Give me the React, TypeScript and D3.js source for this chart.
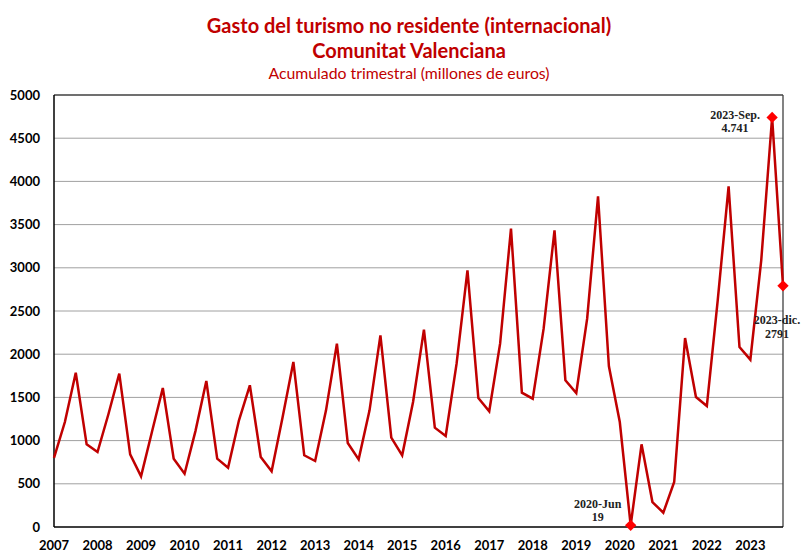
import React from "react";
import * as d3 from "d3";

const years = ["2007","2008","2009","2010","2011","2012","2013","2014","2015","2016","2017","2018","2019","2020","2021","2022","2023"];
const values = [
  800, 1215, 1786, 957,
  868, 1305, 1775, 841,
  586, 1100, 1609, 791,
  617, 1110, 1690, 791,
  687, 1235, 1640, 810,
  645, 1265, 1910, 830,
  764, 1350, 2122, 972,
  783, 1350, 2218, 1034,
  830, 1447, 2284, 1150,
  1053, 1890, 2971, 1493,
  1339, 2122, 3453, 1555,
  1485, 2296, 3434, 1698,
  1551, 2411, 3827, 1860,
  1215, 19, 957, 289,
  166, 521, 2187, 1505,
  1400, 2623, 3943, 2083,
  1937, 3086, 4741, 2791,
];
const yTicks = [0, 500, 1000, 1500, 2000, 2500, 3000, 3500, 4000, 4500, 5000];
const highlights = [
  { idx: 53, lines: ["2020-Jun", "19"], dx: -33, dy: [-21, -8] },
  { idx: 66, lines: ["2023-Sep.", "4.741"], dx: -37, dy: [-2, 11] },
  { idx: 67, lines: ["2023-dic.", "2791"], dx: -6, dy: [34, 48] },
];
const titleLines = ["Gasto del turismo no residente (internacional)", "Comunitat Valenciana"];
const subtitle = "Acumulado trimestral (millones de euros)";

const W = 805, H = 552;
const L = 54, R = 783, T = 95, B = 527;
const RED = "#C00000";

export default function App() {
  const x = d3.scaleLinear().domain([0, values.length - 1]).range([L, R]);
  const y = d3.scaleLinear().domain([0, 5000]).range([B, T]);
  const line = d3.line<number>().x((_, i) => x(i)).y((d) => y(d));
  const diamond = d3.symbol().type(d3.symbolSquare).size(64)();
  const font = "Lato, 'Open Sans', sans-serif";
  const serif = "'Liberation Serif', 'DejaVu Serif', serif";
  return (
    <svg width={W} height={H} style={{ position: "absolute", left: 0, top: 0, background: "#fff" }}>
      <rect x={0} y={0} width={W} height={H} fill="#fff" />
      <text x={409} y={33} textAnchor="middle" fontFamily={font} fontWeight={700} fontSize={20} fill={RED}>{titleLines[0]}</text>
      <text x={409} y={58} textAnchor="middle" fontFamily={font} fontWeight={700} fontSize={20} fill={RED}>{titleLines[1]}</text>
      <text x={409} y={79} textAnchor="middle" fontFamily={font} fontSize={15.8} fill={RED}>{subtitle}</text>
      {yTicks.filter((t) => t > 0 && t < 5000).map((t) => (
        <line key={t} x1={L} x2={R} y1={y(t)} y2={y(t)} stroke="#a0a0a0" strokeWidth={1} />
      ))}
      <line x1={L} x2={R} y1={T} y2={T} stroke="#404040" strokeWidth={1.3} />
      <line x1={R} x2={R} y1={T} y2={B} stroke="#404040" strokeWidth={1.3} />
      <line x1={L} x2={L} y1={T} y2={B} stroke="#000" strokeWidth={1.5} />
      <line x1={L} x2={R} y1={B} y2={B} stroke="#000" strokeWidth={1.5} />
      {yTicks.map((t) => (
        <text key={t} x={40} y={y(t) + 4.5} textAnchor="end" fontFamily={font} fontWeight={700} fontSize={13} fill="#000">{t}</text>
      ))}
      {years.map((yr, i) => (
        <text key={yr} x={x(i * 4)} y={550} textAnchor="middle" fontFamily={font} fontWeight={700} fontSize={13} fill="#000">{yr}</text>
      ))}
      <path d={line(values) || ""} fill="none" stroke={RED} strokeWidth={2.5} strokeLinejoin="miter" />
      {highlights.map((h) => (
        <g key={h.idx}>
          <path d={diamond || ""} transform={`translate(${x(h.idx)},${y(values[h.idx])}) rotate(45)`} fill="#FF0000" />
          {h.lines.map((s, j) => (
            <text key={j} x={x(h.idx) + h.dx} y={y(values[h.idx]) + h.dy[j] + 4} textAnchor="middle" fontFamily={serif} fontWeight={700} fontSize={12} fill="#222">{s}</text>
          ))}
        </g>
      ))}
    </svg>
  );
}
